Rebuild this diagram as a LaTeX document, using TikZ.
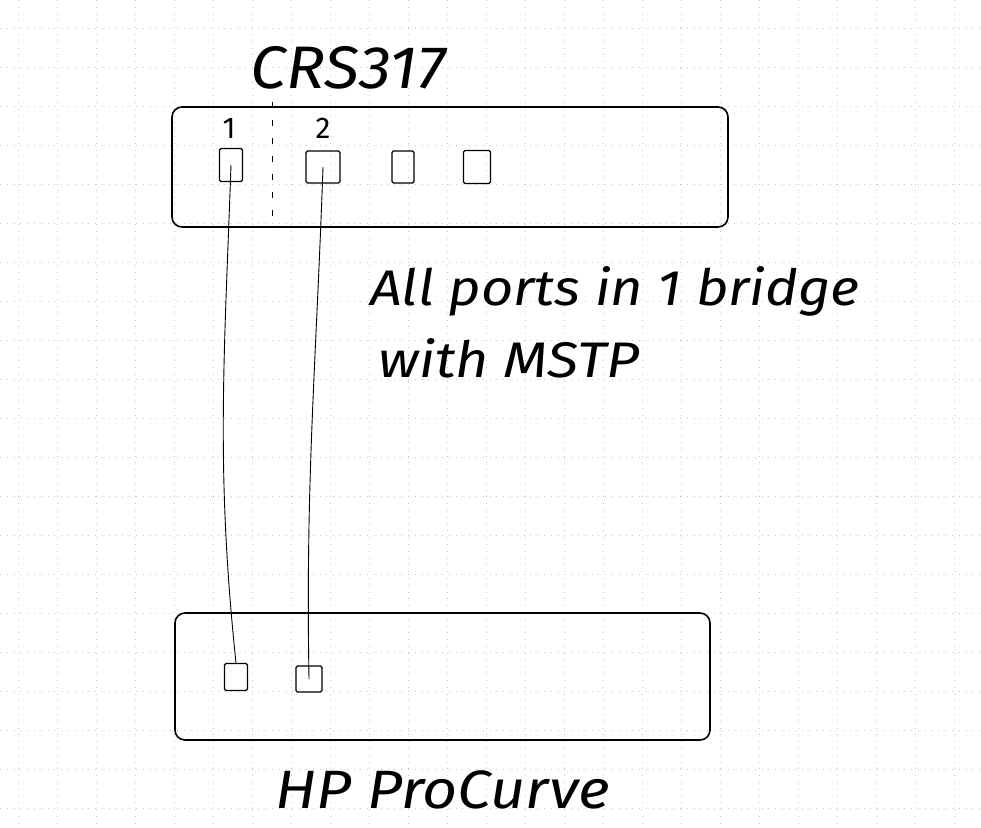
\documentclass[tikz,border=0pt]{standalone}
\usepackage{fontspec}
\setmainfont{Fira Sans}
\begin{document}
\begin{tikzpicture}[x=1pt,y=-1pt,
  grid/.style={gray!45,line width=0.6pt,dash pattern=on 0.8pt off 6pt},
  switchbox/.style={draw,line width=1.6pt,rounded corners=10pt},
  port/.style={draw,line width=1.2pt,rectangle,inner sep=0pt,rounded corners=1.5pt},
  cable/.style={line width=0.9pt},
  hand/.style={font=\itshape\fontsize{50}{56}\selectfont,inner sep=0pt,anchor=west}]
\useasboundingbox (0,0) rectangle (981,827);
\fill[white] (0,0) rectangle (981,827);
% faint dotted grid
\foreach \y in {28,67,...,827} {\draw[grid] (0,\y) -- (981,\y);}
\foreach \x in {18,57,...,981} {\draw[grid] (\x,0) -- (\x,827);}
% top switch
\draw[switchbox] (172,107) rectangle (728,227);
\node[font=\itshape\fontsize{60}{66}\selectfont,inner sep=0pt] (crs) at (348,68) {\scalebox{1.08}[1]{CRS317}};
\draw[line width=1pt,dash pattern=on 6pt off 12pt] (272,102) -- (272,228);
\node[font=\fontsize{30}{34}\selectfont,inner sep=0pt] (l1) at (229,128) {1};
\node[font=\fontsize{30}{34}\selectfont,inner sep=0pt] (l2) at (323,128) {2};
\node[port,minimum width=23pt,minimum height=33pt] (t1) at (231,165) {};
\node[port,minimum width=34pt,minimum height=32pt] (t2) at (323,167) {};
\node[port,minimum width=22pt,minimum height=32pt] (t3) at (403,167) {};
\node[port,minimum width=27pt,minimum height=33pt] (t4) at (477,167) {};
% bottom switch
\draw[switchbox] (175,613) rectangle (710,740);
\node[port,minimum width=23pt,minimum height=27pt] (b1) at (236,677) {};
\node[port,minimum width=26pt,minimum height=26pt] (b2) at (309,679) {};
% cables
\draw[cable] (t1.center) to[out=-92,in=96] (b1.north);
\draw[cable] (t2.center) to[out=-92,in=91] (b2.center);
% texts
\node[hand] (note1) at (370,291) {\scalebox{1.12}[1]{All ports in 1 bridge}};
\node[hand] (note2) at (378,358) {\scalebox{1.15}[1]{with MSTP}};
\node[hand,font=\itshape\fontsize{54}{60}\selectfont] (hp) at (275,790) {\scalebox{1.13}[1]{HP ProCurve}};
\end{tikzpicture}
\end{document}
